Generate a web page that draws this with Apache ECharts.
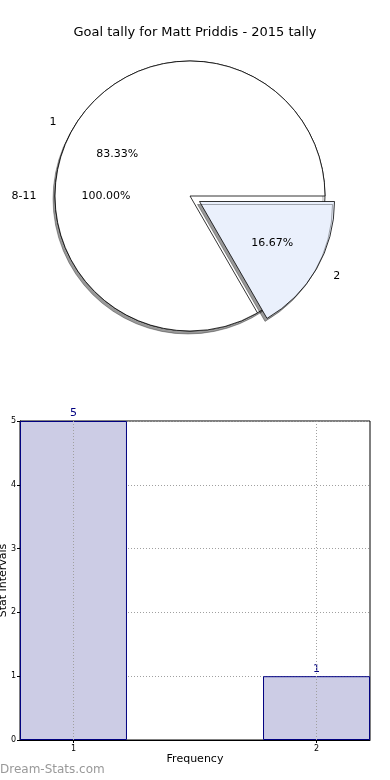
<!DOCTYPE html>
<html>
<head>
<meta charset="utf-8">
<script src="https://cdn.jsdelivr.net/npm/echarts@6/dist/echarts.min.js"></script>
<style>
html,body{margin:0;padding:0;background:#fff;}
#chart{width:390px;height:780px;}
</style>
</head>
<body>
<div id="chart"></div>
<script>
// Data
const chartTitle = 'Goal tally for Matt Priddis - 2015 tally';
const groupNames = ['8-11'];
const groupValues = [6];
const sliceNames = ['1', '2'];
const sliceValues = [5, 1];
const barCategories = [1, 2];
const barValues = [5, 1];

const R = 135;
const center = [190, 196];
const sliceColors = ['#ffffff', '#eaf0fc'];
const pct = p => p.percent.toFixed(2) + '%';

const chart = echarts.init(document.getElementById('chart'));
const shadow = {shadowColor: 'rgba(0,0,0,0.4)', shadowBlur: 0, shadowOffsetX: -2, shadowOffsetY: 3};
const outsideLabel = {show: true, position: 'outside', formatter: '{b}', fontSize: 11, color: '#000', overflow: 'none', bleedMargin: 0};
const option = {
  animation: false,
  textStyle: {fontFamily: 'DejaVu Sans'},
  title: {
    text: chartTitle, left: 'center', top: 21,
    textStyle: {fontSize: 13, fontWeight: 'normal', color: '#000', fontFamily: 'DejaVu Sans'}
  },
  graphic: [{
    type: 'text', left: 0, top: 764,
    style: {text: 'Dream-Stats.com', fontSize: 12, fontWeight: 'normal', fill: '#999', fontFamily: 'DejaVu Sans'}
  }],
  grid: {left: 20, right: 20, top: 421, bottom: 40, containLabel: false, outerBoundsMode: 'none',
    show: true, borderColor: '#000', borderWidth: 1},
  xAxis: {
    type: 'value', min: 0.78, max: 2.22,
    name: 'Frequency', nameLocation: 'middle', nameGap: 14, nameMoveOverlap: false,
    nameTextStyle: {fontSize: 11, color: '#000'},
    axisLine: {show: true, lineStyle: {color: '#000'}},
    axisTick: {show: true, customValues: barCategories, length: 3, lineStyle: {color: '#000'}},
    axisLabel: {customValues: barCategories, fontSize: 8, color: '#000', margin: 5},
    splitLine: {show: false}
  },
  yAxis: {
    type: 'value', min: 0, max: 5, interval: 1,
    name: 'Stat Intervals', nameLocation: 'middle', nameGap: 11, nameMoveOverlap: false,
    nameTextStyle: {fontSize: 11, color: '#000'},
    axisLine: {show: true, lineStyle: {color: '#000'}},
    axisTick: {show: true, length: 3, lineStyle: {color: '#000'}},
    axisLabel: {fontSize: 8, color: '#000', margin: 4},
    splitLine: {show: true, lineStyle: {color: '#a0a0a0', type: [1, 2], width: 1}}
  },
  series: [
    {
      type: 'pie', center: center, radius: R, startAngle: 0, clockwise: false, z: 1,
      silent: true,
      itemStyle: Object.assign({color: '#fff', borderColor: '#000', borderWidth: 0.8}, shadow),
      label: outsideLabel,
      labelLine: {show: false, length: R * 0.1, length2: 0},
      data: groupNames.map((n, i) => ({name: n, value: groupValues[i]}))
    },
    {
      type: 'pie', center: center, radius: [R * 0.2, R], startAngle: 0, clockwise: false, z: 5,
      silent: true,
      itemStyle: {color: 'rgba(0,0,0,0)', borderWidth: 0},
      label: {show: true, position: 'inside', formatter: pct, fontSize: 11, color: '#000'},
      labelLine: {show: false},
      data: groupNames.map((n, i) => ({name: n, value: groupValues[i]}))
    },
    {
      type: 'pie', center: center, radius: R, startAngle: 0, clockwise: false, z: 2,
      silent: true, selectedMode: 'multiple', selectedOffset: 11,
      itemStyle: {borderColor: '#000', borderWidth: 0.8},
      label: outsideLabel,
      labelLine: {show: false, length: R * 0.1, length2: 0},
      data: sliceNames.map((n, i) => ({
        name: n, value: sliceValues[i], selected: i === 1,
        itemStyle: Object.assign({color: sliceColors[i]}, i === 1 ? shadow : {})
      }))
    },
    {
      type: 'pie', center: center, radius: [R * 0.2, R], startAngle: 0, clockwise: false, z: 6,
      silent: true, selectedMode: 'multiple', selectedOffset: 11,
      itemStyle: {color: 'rgba(0,0,0,0)', borderWidth: 0},
      label: {show: true, position: 'inside', formatter: pct, fontSize: 11, color: '#000'},
      labelLine: {show: false},
      data: sliceNames.map((n, i) => ({name: n, value: sliceValues[i], selected: i === 1}))
    },
    {
      type: 'bar', barWidth: 107,
      itemStyle: {color: '#ccccE5', borderColor: '#000080', borderWidth: 1},
      label: {show: true, position: 'top', color: '#000080', fontSize: 11, distance: 2},
      markLine: {
        silent: true, symbol: 'none', label: {show: false},
        lineStyle: {color: '#a0a0a0', type: [1, 2], width: 1},
        data: barCategories.map(c => ({xAxis: c}))
      },
      data: barCategories.map((c, i) => [c, barValues[i]])
    }
  ]
};
chart.setOption(option);
</script>
</body>
</html>
